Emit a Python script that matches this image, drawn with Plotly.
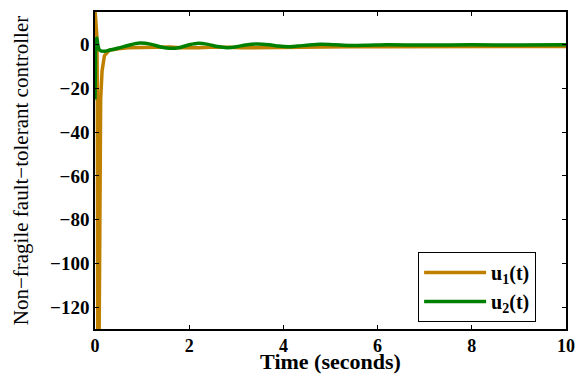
import plotly.graph_objects as go

# u1(t) samples
t1 = [0, 0.02, 0.04, 0.05, 0.06, 0.08, 0.1, 0.12, 0.15, 0.2, 0.3, 0.4, 0.5, 0.7, 0.95,
      1.2, 1.45, 1.6, 1.8, 2.0, 2.2, 2.45, 2.7, 2.85, 3.1, 3.45, 3.7, 4.0, 4.3, 4.8,
      5.4, 6.0, 7.0, 8.0, 9.0, 10.0]
u1 = [16, 8, 4, -20, -160, -160, -60, -25, -12, -5, -2.5, -2.0, -1.8, -1.4, -1.3,
      -1.0, -0.9, -1.0, -1.3, -1.5, -1.4, -1.1, -1.0, -1.1, -1.4, -1.3, -1.0, -1.1, -1.2, -1.0,
      -0.9, -0.9, -0.8, -0.8, -0.9, -0.8]

# u2(t) samples
t2 = [0, 0.01, 0.02, 0.04, 0.06, 0.1, 0.2, 0.3, 0.5, 0.7, 0.95, 1.2, 1.4, 1.6, 1.8,
      2.0, 2.2, 2.4, 2.6, 2.8, 3.0, 3.2, 3.45, 3.7, 3.9, 4.1, 4.3, 4.55, 4.8, 5.1,
      5.4, 5.8, 6.2, 7.0, 8.0, 9.0, 10.0]
u2 = [-25, -10, 2, 3, 0, -2.5, -3, -2.5, -1.5, -0.3, 0.8, 0.2, -1.0, -1.6, -1.2,
      0.0, 0.7, 0.2, -0.8, -1.3, -0.9, -0.1, 0.4, 0.0, -0.6, -0.9, -0.6, -0.1, 0.2, 0.0,
      -0.3, -0.2, 0.0, -0.1, 0.0, -0.1, 0.0]

x_ticks = [0, 2, 4, 6, 8, 10]
y_ticks = [0, -20, -40, -60, -80, -100, -120]

fig = go.Figure()
fig.add_trace(go.Scatter(x=t1, y=u1, mode="lines", name="<b>u<sub>1</sub>(t)</b>",
                         line=dict(color="#BF8000", width=3.5)))
fig.add_trace(go.Scatter(x=t2, y=u2, mode="lines", name="<b>u<sub>2</sub>(t)</b>",
                         line=dict(color="#008000", width=3.5, shape="spline", smoothing=0.8)))

font_family = "Liberation Serif"
fig.update_layout(
    width=579, height=374,
    margin=dict(l=95, r=13, t=12, b=45, autoexpand=False),
    paper_bgcolor="white", plot_bgcolor="white",
    font=dict(family=font_family, color="black"),
    legend=dict(x=0.686, y=0.243, xanchor="left", yanchor="top",
                bordercolor="black", borderwidth=1, bgcolor="white",
                font=dict(size=20, family=font_family, color="black"),
                itemwidth=62, tracegroupgap=0),
    showlegend=True,
)
fig.update_xaxes(
    range=[0, 10], tickvals=x_ticks, ticktext=[f"<b>{v}</b>" for v in x_ticks],
    showgrid=False, zeroline=False, showline=True, linecolor="black", linewidth=1.5,
    mirror="ticks", ticks="inside", ticklen=4, tickcolor="black",
    tickfont=dict(size=18, family=font_family), automargin=True,
    title=dict(text="<b>Time (seconds)</b>", font=dict(size=22, family=font_family), standoff=1),
)
fig.update_yaxes(
    range=[-130, 15], tickvals=y_ticks,
    ticktext=[f"<b>{v}</b>".replace("-", "\u2212") for v in y_ticks],
    showgrid=False, zeroline=False, showline=True, linecolor="black", linewidth=1.5,
    mirror="ticks", ticks="inside", ticklen=4, tickcolor="black",
    tickfont=dict(size=19, family=font_family), automargin=False,
    title=dict(text="Non\u2212fragile fault\u2212tolerant controller",
               font=dict(size=21, family=font_family), standoff=16),
)
fig.write_html("out.html", config={"displayModeBar": False},
               post_script="document.body.style.margin='0';document.body.style.overflow='hidden';")
